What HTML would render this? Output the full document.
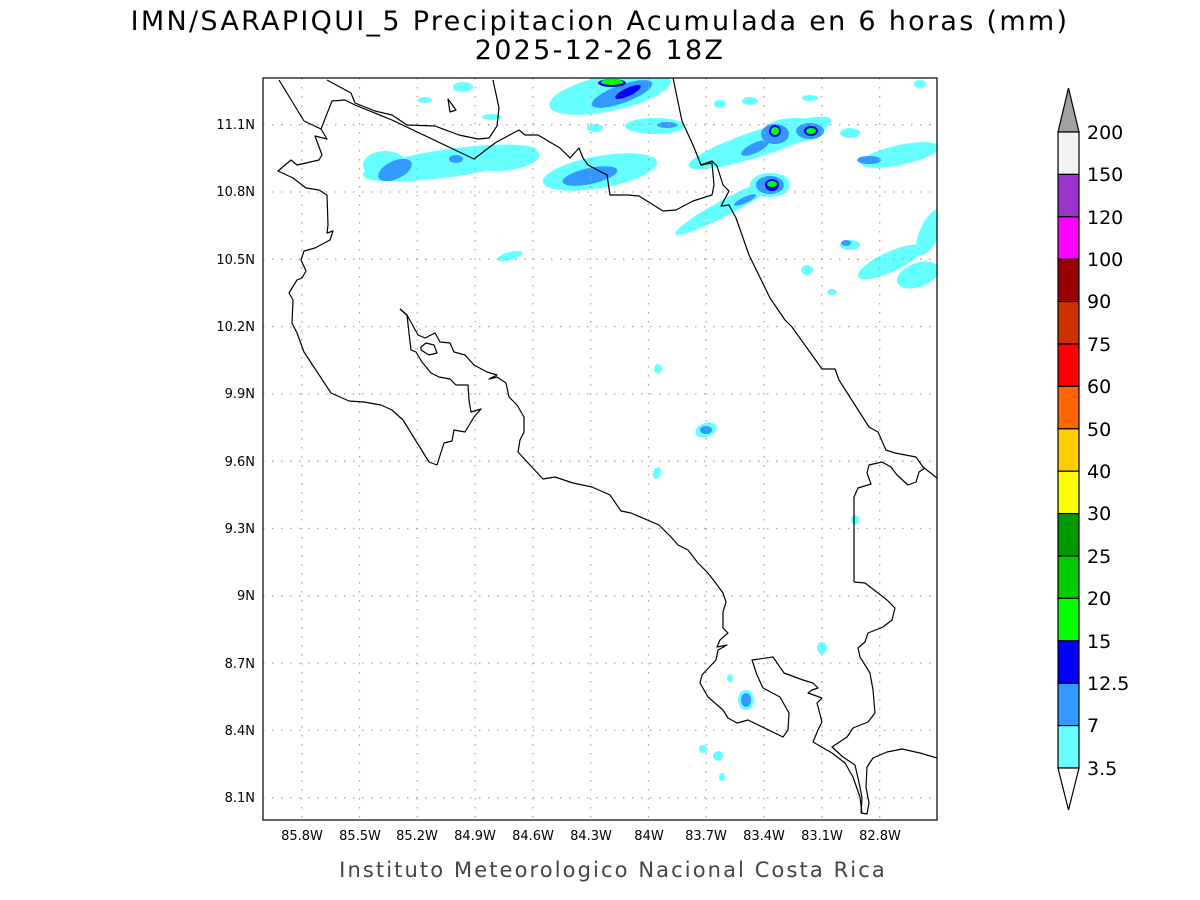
<!DOCTYPE html>
<html><head><meta charset="utf-8"><style>
html,body{margin:0;padding:0;background:#fff;}
svg{display:block;font-family:"DejaVu Sans","Liberation Sans",sans-serif;}
</style></head><body>
<svg width="1200" height="900" viewBox="0 0 1200 900" xmlns="http://www.w3.org/2000/svg">
<rect width="1200" height="900" fill="#fff"/>
<text x="600" y="30" text-anchor="middle" font-size="27" fill="#000" letter-spacing="2.3">IMN/SARAPIQUI_5 Precipitacion Acumulada en 6 horas (mm)</text>
<text x="600" y="59" text-anchor="middle" font-size="27" fill="#000" letter-spacing="2.3">2025-12-26 18Z</text>
<defs><clipPath id="c"><rect x="263" y="78" width="674" height="742"/></clipPath></defs>
<g clip-path="url(#c)">
<g fill="#66ffff">
<ellipse cx="450" cy="163" rx="88" ry="14" transform="rotate(-8 450 163)"/>
<ellipse cx="385" cy="165" rx="22" ry="14"/>
<ellipse cx="600" cy="172" rx="58" ry="16" transform="rotate(-10 600 172)"/>
<ellipse cx="510" cy="160" rx="30" ry="10" transform="rotate(-10 510 160)"/>
<ellipse cx="610" cy="93" rx="62" ry="18" transform="rotate(-12 610 93)"/>
<ellipse cx="655" cy="126" rx="30" ry="8"/>
<ellipse cx="760" cy="143" rx="75" ry="13" transform="rotate(-18 760 143)"/>
<ellipse cx="795" cy="130" rx="30" ry="12"/>
<ellipse cx="730" cy="205" rx="62" ry="8" transform="rotate(-28 730 205)"/>
<ellipse cx="770" cy="185" rx="20" ry="12"/>
<ellipse cx="900" cy="155" rx="40" ry="10" transform="rotate(-12 900 155)"/>
<ellipse cx="850" cy="133" rx="10" ry="5"/>
<ellipse cx="810" cy="98" rx="8" ry="3"/>
<ellipse cx="750" cy="101" rx="8" ry="4"/>
<ellipse cx="720" cy="104" rx="6" ry="4"/>
<ellipse cx="890" cy="262" rx="35" ry="10" transform="rotate(-25 890 262)"/>
<ellipse cx="930" cy="232" rx="10" ry="25" transform="rotate(25 930 232)"/>
<ellipse cx="918" cy="275" rx="22" ry="12" transform="rotate(-20 918 275)"/>
<ellipse cx="850" cy="245" rx="10" ry="5"/>
<ellipse cx="807" cy="270" rx="6" ry="5"/>
<ellipse cx="832" cy="292" rx="5" ry="3"/>
<ellipse cx="920" cy="84" rx="6" ry="4"/>
<ellipse cx="510" cy="256" rx="13" ry="4" transform="rotate(-15 510 256)"/>
<ellipse cx="425" cy="100" rx="7" ry="3"/>
<ellipse cx="463" cy="87" rx="10" ry="5"/>
<ellipse cx="492" cy="117" rx="10" ry="3"/>
<ellipse cx="595" cy="128" rx="8" ry="4"/>
<ellipse cx="658" cy="369" rx="4" ry="5"/>
<ellipse cx="706" cy="430" rx="11" ry="7" transform="rotate(-20 706 430)"/>
<ellipse cx="657" cy="473" rx="4" ry="6" transform="rotate(20 657 473)"/>
<ellipse cx="855" cy="520" rx="4" ry="5"/>
<ellipse cx="822" cy="648" rx="5" ry="6"/>
<ellipse cx="746" cy="700" rx="8" ry="10"/>
<ellipse cx="730" cy="678" rx="3" ry="4"/>
<ellipse cx="703" cy="749" rx="4" ry="4"/>
<ellipse cx="718" cy="756" rx="5" ry="5"/>
<ellipse cx="722" cy="777" rx="3" ry="4"/>
</g>
<g fill="#3399ff">
<ellipse cx="395" cy="170" rx="18" ry="9" transform="rotate(-25 395 170)"/>
<ellipse cx="456" cy="159" rx="7" ry="4"/>
<ellipse cx="590" cy="176" rx="28" ry="8" transform="rotate(-12 590 176)"/>
<ellipse cx="622" cy="94" rx="32" ry="9" transform="rotate(-20 622 94)"/>
<ellipse cx="667" cy="125" rx="10" ry="3"/>
<ellipse cx="775" cy="134" rx="14" ry="10"/>
<ellipse cx="810" cy="131" rx="14" ry="8"/>
<ellipse cx="755" cy="148" rx="15" ry="5" transform="rotate(-25 755 148)"/>
<ellipse cx="770" cy="185" rx="14" ry="9"/>
<ellipse cx="745" cy="200" rx="12" ry="3" transform="rotate(-25 745 200)"/>
<ellipse cx="869" cy="160" rx="12" ry="4"/>
<ellipse cx="846" cy="243" rx="5" ry="3"/>
<ellipse cx="706" cy="430" rx="6" ry="4"/>
<ellipse cx="746" cy="700" rx="5" ry="7"/>
</g>
<g fill="#0000ff">
<ellipse cx="628" cy="92" rx="14" ry="4" transform="rotate(-25 628 92)"/>
<ellipse cx="612" cy="83" rx="14" ry="4"/>
<ellipse cx="775" cy="131" rx="6" ry="6"/>
<ellipse cx="811" cy="131" rx="7" ry="5"/>
<ellipse cx="772" cy="185" rx="7" ry="6"/>
</g>
<g fill="#00ff00">
<ellipse cx="612" cy="82" rx="11" ry="3"/>
<ellipse cx="775" cy="131" rx="4" ry="4"/>
<ellipse cx="811" cy="131" rx="5" ry="3"/>
<ellipse cx="772" cy="184" rx="5" ry="3"/>
</g>
<g stroke="#aaa" stroke-width="1.3" stroke-dasharray="1.5,7.5" fill="none">
<path d="M301.7 78V820M359.5 78V820M417.3 78V820M475.1 78V820M532.9 78V820M590.7 78V820M648.5 78V820M706.3 78V820M764.1 78V820M821.9 78V820M879.7 78V820"/>
<path d="M263 124.7H937M263 192H937M263 259.3H937M263 326.6H937M263 393.9H937M263 461.2H937M263 528.5H937M263 595.8H937M263 663.1H937M263 730.4H937M263 797.7H937"/>
</g>
<g fill="none" stroke="#000" stroke-width="1.2" stroke-linejoin="round">
<polyline points="279,80 304,121 321,129 327,139 315,136 322,155 319,160 306,163 297,165 291,160 278,171 293,178 306,188 319,190 327,195 328,225 327,233 333,231 330,240 315,248 304,251 301,260 306,271 302,278 297,280 289,293 293,300 292,323 297,333 304,352 331,393 349,401 364,402 381,405 392,410 403,420 429,462 437,465 444,443 452,441 454,430 465,432 474,417 481,409 471,412 469,400 468,385 456,385 450,379 439,377 431,373 422,362 416,352 411,350 409,333 407,315 400,309"/>
<polyline points="400,309 407,315 418,335 425,338 435,333 440,342 450,343 454,352 465,355 474,365 487,372 497,375 489,379 497,377 506,383 509,397 517,405 524,417 524,432 520,440 518,452 530,465 543,479 555,477 573,483 592,487 610,495 621,511 631,513 659,525 671,537 678,545 688,550 698,563 707,572 715,582 723,593 726,602 723,612 723,628 728,633 720,640 717,647 727,645 718,650 716,660 702,675 700,683 708,697 723,710 728,718 737,723 748,720 783,737 788,730 789,713 780,697 763,688 757,675 752,660 773,657 784,673 803,680 813,683 818,688 812,690 808,693 822,698 817,703 822,722 818,730 813,742 832,753 845,763 853,777 860,797 862,813"/>
<polygon points="421,347 426,343 434,345 437,353 429,355 421,350"/>
<polygon points="448,99 450,112 456,110"/>
<polyline points="327,80 351,93 355,103 375,111 392,115 407,125 435,126 459,135 478,139 489,138 497,126 499,108 493,80"/>
<polyline points="321,129 332,101 345,100 355,105 392,120 474,159 495,143 504,138 519,130 525,135 538,135 560,148 570,158 579,148 583,158 588,165 607,175 610,195 628,195 639,196 663,211 676,210 693,201 712,195 714,185 712,163 701,165"/>
<polyline points="673,78 682,121 693,145 701,165 712,161 717,166 723,185 729,191 721,206 729,205 736,218 749,255 770,298 785,320 792,327 822,369 835,369 839,380 869,427 878,432 886,450 895,453 916,457 923,467 937,478"/>
<polyline points="854,582 854,497 858,488 871,484 867,473 869,465 882,462 891,467 897,475 908,485 916,482 919,472 925,468"/>
<polyline points="854,582 865,583 878,593 887,600 895,608 892,620 883,627 868,633 865,642 858,648 860,657 870,673 873,690 875,713 868,722 853,728 847,737 832,747 843,757 855,765 860,787 862,798 861,813 867,814 869,803 866,787 867,767 873,758 887,752 902,749 920,753 937,758"/>
</g>
</g>
<rect x="263" y="78" width="674" height="742" fill="none" stroke="#000" stroke-width="1.2"/>
<g font-size="13" text-anchor="end" fill="#000">
<text x="255" y="129">11.1N</text><text x="255" y="196">10.8N</text><text x="255" y="264">10.5N</text>
<text x="255" y="331">10.2N</text><text x="255" y="398">9.9N</text><text x="255" y="466">9.6N</text>
<text x="255" y="533">9.3N</text><text x="255" y="600">9N</text><text x="255" y="668">8.7N</text>
<text x="255" y="735">8.4N</text><text x="255" y="802">8.1N</text>
</g>
<g font-size="13" text-anchor="middle" fill="#000">
<text x="302" y="840">85.8W</text><text x="360" y="840">85.5W</text><text x="417" y="840">85.2W</text>
<text x="475" y="840">84.9W</text><text x="533" y="840">84.6W</text><text x="591" y="840">84.3W</text>
<text x="649" y="840">84W</text><text x="706" y="840">83.7W</text><text x="764" y="840">83.4W</text>
<text x="822" y="840">83.1W</text><text x="880" y="840">82.8W</text>
</g>
<text x="613" y="877" text-anchor="middle" font-size="21" fill="#444" letter-spacing="2.1">Instituto Meteorologico Nacional Costa Rica</text>
<g stroke="#000" stroke-width="1.2">
<polygon points="1058,132 1079,132 1068.5,88" fill="#a0a0a0"/>
<rect x="1058" y="132" width="21" height="42.4" fill="#f2f2f2"/>
<rect x="1058" y="174.4" width="21" height="42.4" fill="#9933cc"/>
<rect x="1058" y="216.8" width="21" height="42.4" fill="#ff00ff"/>
<rect x="1058" y="259.2" width="21" height="42.4" fill="#990000"/>
<rect x="1058" y="301.6" width="21" height="42.4" fill="#cc3300"/>
<rect x="1058" y="344" width="21" height="42.4" fill="#ff0000"/>
<rect x="1058" y="386.4" width="21" height="42.4" fill="#ff6600"/>
<rect x="1058" y="428.8" width="21" height="42.4" fill="#ffcc00"/>
<rect x="1058" y="471.2" width="21" height="42.4" fill="#ffff00"/>
<rect x="1058" y="513.6" width="21" height="42.4" fill="#009900"/>
<rect x="1058" y="556" width="21" height="42.4" fill="#00cc00"/>
<rect x="1058" y="598.4" width="21" height="42.4" fill="#00ff00"/>
<rect x="1058" y="640.8" width="21" height="42.4" fill="#0000ff"/>
<rect x="1058" y="683.2" width="21" height="42.4" fill="#3399ff"/>
<rect x="1058" y="725.6" width="21" height="42.4" fill="#66ffff"/>
<polygon points="1058,768 1079,768 1068.5,810" fill="#fff"/>
</g>
<g font-size="19" fill="#000">
<text x="1087" y="139">200</text><text x="1087" y="181">150</text><text x="1087" y="224">120</text>
<text x="1087" y="266">100</text><text x="1087" y="308">90</text><text x="1087" y="351">75</text>
<text x="1087" y="393">60</text><text x="1087" y="436">50</text><text x="1087" y="478">40</text>
<text x="1087" y="520">30</text><text x="1087" y="563">25</text><text x="1087" y="605">20</text>
<text x="1087" y="648">15</text><text x="1087" y="690">12.5</text><text x="1087" y="732">7</text>
<text x="1087" y="775">3.5</text>
</g>
</svg>
</body></html>
